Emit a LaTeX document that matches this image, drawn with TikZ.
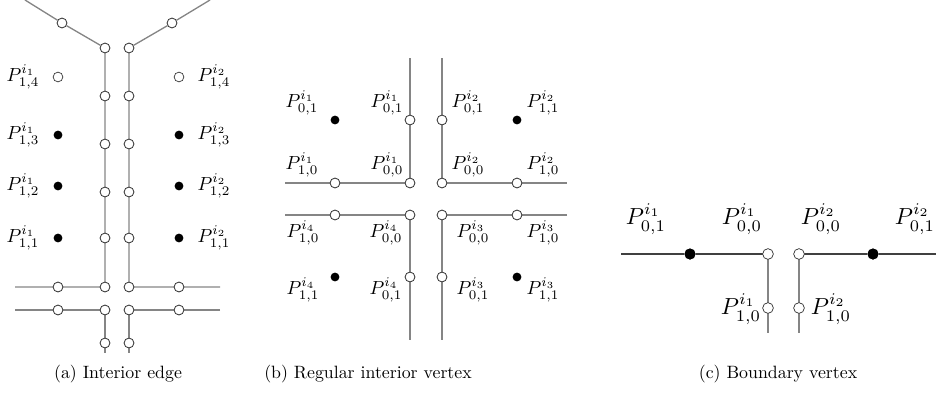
\documentclass[tikz,border=0pt]{standalone}
\usepackage{fontspec}
\begin{document}
\begin{tikzpicture}[x=0.645pt,y=-0.645pt,
  ln/.style={draw=black!48,line width=0.85pt},
  lnd/.style={draw=black!75,line width=0.85pt},
  oc/.style={circle,draw=black!80,fill=white,line width=0.45pt,inner sep=0pt,minimum size=6.3pt},
  fc/.style={circle,fill=black,inner sep=0pt,minimum size=5.7pt},
  fcb/.style={circle,fill=black,inner sep=0pt,minimum size=7.1pt},
  lab/.style={inner sep=0pt,scale=1.22},
  labc/.style={inner sep=0pt,scale=1.5},
  captxt/.style={inner sep=0pt,scale=1.15}]
\useasboundingbox (0,0) rectangle (936,396);
% ---------------- panel (a)
\coordinate (aLtop) at (25,0);
\node[oc] (aLd) at (62,23) {};
\node[oc] (aL4) at (105,48) {};
\node[oc] (aL3) at (105,96) {};
\node[oc] (aL2) at (105,144) {};
\node[oc] (aL1) at (105,192) {};
\node[oc] (aL0) at (105,238) {};
\node[oc] (aLc) at (105,287) {};
\coordinate (aLh) at (15,287);
\node[oc] (aLhc) at (58,287) {};
\coordinate (aLh2) at (15,310);
\node[oc] (aLh2c) at (58,310) {};
\node[oc] (aLc2) at (105,310) {};
\node[oc] (aLb) at (105,343) {};
\coordinate (aLend) at (105,353);
\coordinate (aRtop) at (210,0);
\node[oc] (aRd) at (172,23) {};
\node[oc] (aR4) at (129,48) {};
\node[oc] (aR3) at (129,96) {};
\node[oc] (aR2) at (129,144) {};
\node[oc] (aR1) at (129,192) {};
\node[oc] (aR0) at (129,238) {};
\node[oc] (aRc) at (129,287) {};
\coordinate (aRh) at (220,287);
\node[oc] (aRhc) at (179,287) {};
\coordinate (aRh2) at (220,310);
\node[oc] (aRh2c) at (179,310) {};
\node[oc] (aRc2) at (129,310) {};
\node[oc] (aRb) at (129,343) {};
\coordinate (aRend) at (129,353);
\draw[ln] (aLtop) -- (aLd) -- (aL4) -- (aL3) -- (aL2) -- (aL1) -- (aL0) -- (aLc) -- (aLhc) -- (aLh);
\draw[ln] (aLh2) -- (aLh2c) -- (aLc2) -- (aLb) -- (aLend);
\draw[ln] (aRtop) -- (aRd) -- (aR4) -- (aR3) -- (aR2) -- (aR1) -- (aR0) -- (aRc) -- (aRhc) -- (aRh);
\draw[ln] (aRh2) -- (aRh2c) -- (aRc2) -- (aRb) -- (aRend);
\foreach \n in {aLd,aL4,aL3,aL2,aL1,aL0,aLc,aLhc,aLh2c,aLc2,aLb,aRd,aR4,aR3,aR2,aR1,aR0,aRc,aRhc,aRh2c,aRc2,aRb}
  \node[oc] at (\n) {};
\node[oc] (aP14) at (58,77) {};
\node[fc] (aP13) at (58,135) {};
\node[fc] (aP12) at (58,186) {};
\node[fc] (aP11) at (58,238) {};
\node[oc] (aQ14) at (179,77) {};
\node[fc] (aQ13) at (179,135) {};
\node[fc] (aQ12) at (179,186) {};
\node[fc] (aQ11) at (179,238) {};
\node[lab] (laP14) at (23,77) {$P^{i_1}_{1,4}$};
\node[lab] (laP13) at (23,135) {$P^{i_1}_{1,3}$};
\node[lab] (laP12) at (23,186) {$P^{i_1}_{1,2}$};
\node[lab] (laP11) at (23,238) {$P^{i_1}_{1,1}$};
\node[lab] (laQ14) at (214,77) {$P^{i_2}_{1,4}$};
\node[lab] (laQ13) at (214,135) {$P^{i_2}_{1,3}$};
\node[lab] (laQ12) at (214,186) {$P^{i_2}_{1,2}$};
\node[lab] (laQ11) at (214,238) {$P^{i_2}_{1,1}$};
\node[captxt] (capa) at (118,374) {(a) Interior edge};
% ---------------- panel (b)
\coordinate (bLtop) at (410,58);
\node[oc] (bL1) at (410,120) {};
\node[oc] (bLc) at (410,183) {};
\node[oc] (bLh) at (335,183) {};
\coordinate (bLhe) at (285,183);
\coordinate (bRtop) at (442,58);
\node[oc] (bR1) at (442,120) {};
\node[oc] (bRc) at (442,183) {};
\node[oc] (bRh) at (517,183) {};
\coordinate (bRhe) at (567,183);
\coordinate (bDLhe) at (285,215);
\node[oc] (bDLh) at (335,215) {};
\node[oc] (bDLc) at (410,215) {};
\node[oc] (bDL1) at (410,277) {};
\coordinate (bDLend) at (410,340);
\coordinate (bDRhe) at (567,215);
\node[oc] (bDRh) at (517,215) {};
\node[oc] (bDRc) at (442,215) {};
\node[oc] (bDR1) at (442,277) {};
\coordinate (bDRend) at (442,340);
\draw[ln] (bLtop) -- (bL1) -- (bLc) -- (bLh) -- (bLhe);
\draw[ln] (bRtop) -- (bR1) -- (bRc) -- (bRh) -- (bRhe);
\draw[ln] (bDLhe) -- (bDLh) -- (bDLc) -- (bDL1) -- (bDLend);
\draw[ln] (bDRhe) -- (bDRh) -- (bDRc) -- (bDR1) -- (bDRend);
\foreach \n in {bL1,bLc,bLh,bR1,bRc,bRh,bDLh,bDLc,bDL1,bDRh,bDRc,bDR1}
  \node[oc] at (\n) {};
\node[fc] (bF1) at (335,120) {};
\node[fc] (bF2) at (517,120) {};
\node[fc] (bF3) at (335,277) {};
\node[fc] (bF4) at (517,277) {};
\node[lab] (lb11) at (302,103) {$P^{i_1}_{0,1}$};
\node[lab] (lb12) at (387,103) {$P^{i_1}_{0,1}$};
\node[lab] (lb13) at (468,103) {$P^{i_2}_{0,1}$};
\node[lab] (lb14) at (543,103) {$P^{i_2}_{1,1}$};
\node[lab] (lb21) at (302,165) {$P^{i_1}_{1,0}$};
\node[lab] (lb22) at (387,165) {$P^{i_1}_{0,0}$};
\node[lab] (lb23) at (468,165) {$P^{i_2}_{0,0}$};
\node[lab] (lb24) at (543,165) {$P^{i_2}_{1,0}$};
\node[lab] (lb31) at (303,233) {$P^{i_4}_{1,0}$};
\node[lab] (lb32) at (386,233) {$P^{i_4}_{0,0}$};
\node[lab] (lb33) at (473,233) {$P^{i_3}_{0,0}$};
\node[lab] (lb34) at (543,233) {$P^{i_3}_{1,0}$};
\node[lab] (lb41) at (303,290) {$P^{i_4}_{1,1}$};
\node[lab] (lb42) at (386,290) {$P^{i_4}_{0,1}$};
\node[lab] (lb43) at (473,290) {$P^{i_3}_{0,1}$};
\node[lab] (lb44) at (543,290) {$P^{i_3}_{1,1}$};
\node[captxt] (capb) at (368,374) {(b) Regular interior vertex};
% ---------------- panel (c)
\coordinate (cLe) at (621,254);
\node[fcb] (cLf) at (690,254) {};
\node[oc] (cLc) at (768,254) {};
\node[oc] (cL1) at (768,308) {};
\coordinate (cLend) at (768,333);
\coordinate (cRe) at (936,254);
\node[fcb] (cRf) at (873,254) {};
\node[oc] (cRc) at (799,254) {};
\node[oc] (cR1) at (799,308) {};
\coordinate (cRend) at (799,333);
\draw[lnd] (cLe) -- (cLf) -- (cLc);
\draw[lnd] (cRe) -- (cRf) -- (cRc);
\draw[ln] (cLc) -- (cL1) -- (cLend);
\draw[ln] (cRc) -- (cR1) -- (cRend);
\foreach \n in {cLc,cL1,cRc,cR1} \node[oc,minimum size=6.9pt] at (\n) {};
\foreach \n in {cLf,cRf} \node[fcb] at (\n) {};
\node[labc] (lc1) at (646,219) {$P^{i_1}_{0,1}$};
\node[labc] (lc2) at (742,219) {$P^{i_1}_{0,0}$};
\node[labc] (lc3) at (821,219) {$P^{i_2}_{0,0}$};
\node[labc] (lc4) at (915,219) {$P^{i_2}_{0,1}$};
\node[labc] (lc5) at (741,309) {$P^{i_1}_{1,0}$};
\node[labc] (lc6) at (831,309) {$P^{i_2}_{1,0}$};
\node[captxt] (capc) at (778,374) {(c) Boundary vertex};
\end{tikzpicture}
\end{document}
